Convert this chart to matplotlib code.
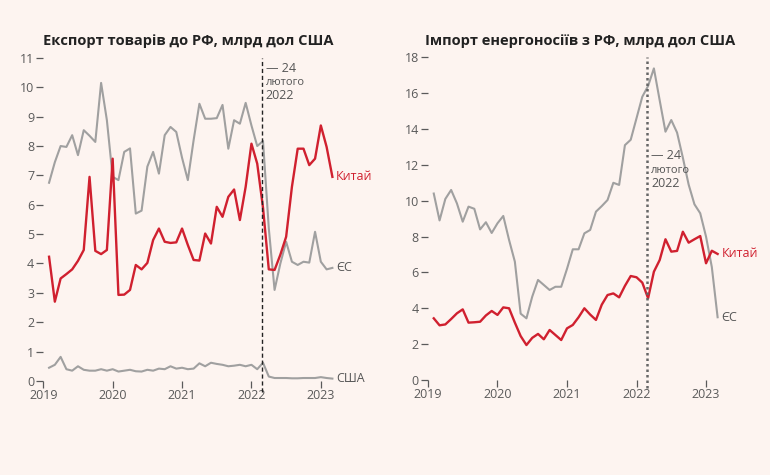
import matplotlib
matplotlib.use("Agg")
import matplotlib.pyplot as plt
import numpy as np

plt.rcParams["font.family"] = ["Open Sans", "DejaVu Sans"]

# months since Jan 2019 (1 = Feb 2019 ... 50 = Mar 2023)
months = np.arange(1, 51)
dates = 2019 + months / 12

# Export of goods to Russia, bn USD
export_china = [
    4.23, 2.7, 3.49, 3.64, 3.8, 4.09, 4.46, 6.95, 4.43, 4.32,
    4.46, 7.57, 2.93, 2.94, 3.1, 3.95, 3.8, 4.02, 4.8, 5.19,
    4.74, 4.7, 4.72, 5.19, 4.63, 4.12, 4.1, 5.02, 4.68, 5.93,
    5.59, 6.27, 6.52, 5.48, 6.61, 8.08, 7.4, 5.9, 3.8, 3.78,
    4.3, 4.91, 6.61, 7.91, 7.91, 7.35, 7.57, 8.7, 7.97, 6.95,
]
export_eu = [
    6.75, 7.45, 8.0, 7.97, 8.37, 7.69, 8.54, 8.35, 8.14, 10.15,
    8.88, 6.95, 6.84, 7.8, 7.92, 5.7, 5.8, 7.3, 7.8, 7.06,
    8.37, 8.65, 8.48, 7.6, 6.84, 8.2, 9.44, 8.93, 8.93, 8.95,
    9.4, 7.91, 8.88, 8.76, 9.47, 8.7, 8.0, 8.17, 5.2, 3.1,
    4.0, 4.74, 4.06, 3.95, 4.06, 4.03, 5.08, 4.06, 3.8, 3.85,
]
export_us = [
    0.45, 0.55, 0.82, 0.4, 0.35, 0.5, 0.38, 0.35, 0.35, 0.4,
    0.35, 0.4, 0.32, 0.35, 0.38, 0.33, 0.32, 0.38, 0.35, 0.42,
    0.4, 0.5, 0.42, 0.45, 0.4, 0.42, 0.6, 0.5, 0.62, 0.58,
    0.55, 0.5, 0.52, 0.55, 0.5, 0.55, 0.4, 0.62, 0.15, 0.1,
    0.1, 0.1, 0.09, 0.09, 0.1, 0.1, 0.1, 0.13, 0.1, 0.08,
]

# Import of energy from Russia, bn USD
import_eu = [
    10.4, 8.9, 10.1, 10.6, 9.85, 8.83, 9.67, 9.55, 8.4, 8.8,
    8.2, 8.74, 9.15, 7.81, 6.6, 3.7, 3.44, 4.65, 5.58, 5.3,
    5.02, 5.2, 5.2, 6.2, 7.29, 7.29, 8.18, 8.37, 9.39, 9.7,
    10.04, 11.0, 10.88, 13.1, 13.4, 14.6, 15.8, 16.4, 17.38, 15.6,
    13.85, 14.5, 13.8, 12.4, 10.9, 9.8, 9.3, 8.0, 6.3, 3.5,
]
import_china = [
    3.44, 3.05, 3.1, 3.4, 3.72, 3.94, 3.2, 3.22, 3.25, 3.6,
    3.85, 3.63, 4.05, 4.0, 3.2, 2.45, 1.95, 2.35, 2.57, 2.27,
    2.79, 2.51, 2.23, 2.88, 3.07, 3.5, 4.0, 3.65, 3.35, 4.2,
    4.74, 4.83, 4.61, 5.25, 5.8, 5.73, 5.43, 4.56, 6.04, 6.69,
    7.85, 7.16, 7.2, 8.27, 7.66, 7.85, 8.03, 6.51, 7.21, 7.03,
]

invasion = 2022 + 54 / 365  # 24 Feb 2022
years = [2019, 2020, 2021, 2022, 2023]

bg = "#fdf4f0"
red = "#d0202f"
grey = "#a0a0a0"
tick_col = "#5a5a5a"

fig = plt.figure(figsize=(7.7, 4.75), dpi=100, facecolor=bg)
ax1 = fig.add_axes([0.0562, 0.198, 0.3875, 0.680])
ax2 = fig.add_axes([0.5558, 0.200, 0.3882, 0.6794])


def style_axes(ax, ymax, ystep):
    ax.set_facecolor(bg)
    for s in ax.spines.values():
        s.set_visible(False)
    ax.set_xlim(2019, 2023.3)
    ax.set_ylim(0, ymax)
    ax.set_yticks(np.arange(0, ymax + 0.1, ystep))
    ax.set_xticks(years)
    ax.set_xticklabels([str(y) for y in years])
    ax.tick_params(axis="both", colors=tick_col, labelsize=9, length=5,
                   width=0.9, pad=1.5, direction="out")
    ax.tick_params(axis="x", pad=0.5)


# left chart
style_axes(ax1, 11, 1)
ax1.plot(dates, export_eu, color=grey, lw=1.5)
ax1.plot(dates, export_us, color=grey, lw=1.5)
ax1.plot(dates, export_china, color=red, lw=1.7)
ax1.axvline(invasion, ymin=-0.035, ymax=1.0, color="#222222", lw=1.0,
            ls=(0, (3, 2)), clip_on=False)
ax1.text(invasion + 0.06, 10.85, "— 24", fontsize=9, color="#555555", va="top")
ax1.text(invasion + 0.06, 10.35, "лютого", fontsize=8, color="#555555", va="top")
ax1.text(invasion + 0.06, 9.95, "2022", fontsize=9, color="#555555", va="top")
ax1.text(2023.22, export_china[-1], "Китай", fontsize=9, color=red, va="center")
ax1.text(2023.22, export_eu[-1], "ЄС", fontsize=9, color="#555555", va="center")
ax1.text(2023.22, export_us[-1], "США", fontsize=9, color="#555555", va="center")
fig.text(0.245, 0.905, "Експорт товарів до РФ, млрд дол США", ha="center",
         fontsize=10.5, fontweight="bold", color="#222222")

# right chart
style_axes(ax2, 18, 2)
ax2.plot(dates, import_eu, color=grey, lw=1.5)
ax2.plot(dates, import_china, color=red, lw=1.7)
ax2.axvline(invasion, ymin=-0.025, ymax=1.0, color="#666666", lw=1.8,
            ls=(0, (1, 1.2)), clip_on=False)
ax2.text(invasion + 0.06, 12.9, "— 24", fontsize=9, color="#555555", va="top")
ax2.text(invasion + 0.06, 12.0, "лютого", fontsize=8, color="#555555", va="top")
ax2.text(invasion + 0.06, 11.35, "2022", fontsize=9, color="#555555", va="top")
ax2.text(2023.22, import_china[-1], "Китай", fontsize=9, color=red, va="center")
ax2.text(2023.22, import_eu[-1], "ЄС", fontsize=9, color="#555555", va="center")
fig.text(0.753, 0.905, "Імпорт енергоносіїв з РФ, млрд дол США", ha="center",
         fontsize=10.5, fontweight="bold", color="#222222")

fig.savefig("out.png", dpi=100, facecolor=bg)
